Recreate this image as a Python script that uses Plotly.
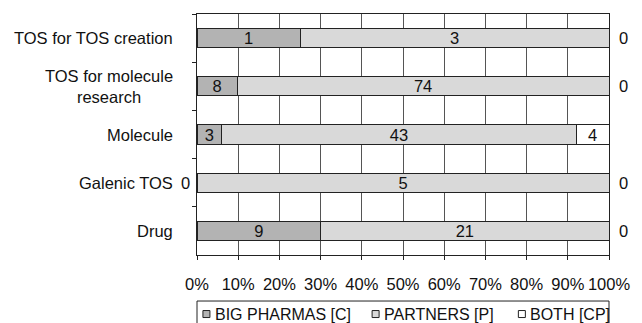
import plotly.graph_objects as go

# Categories listed top to bottom
categories = ["TOS for TOS creation", "TOS for molecule<br>research", "Molecule", "Galenic TOS", "Drug"]
big_pharmas = [1, 8, 3, 0, 9]
partners = [3, 74, 43, 5, 21]
both = [0, 0, 4, 0, 0]

series_names = ["BIG PHARMAS [C]", "PARTNERS [P]", "BOTH [CP]"]
series_values = [big_pharmas, partners, both]
series_colors = ["#b3b3b3", "#d9d9d9", "#ffffff"]

FONT = "Liberation Sans, Arial, sans-serif"
fs = 16.5
INK = "#111111"

fig = go.Figure()
for name, vals, col in zip(series_names, series_values, series_colors):
    fig.add_trace(go.Bar(
        y=categories, x=vals, name=name, orientation="h",
        marker=dict(color=col, line=dict(color="#222222", width=1)),
        text=[str(v) if v else "" for v in vals],
        textposition="inside", insidetextanchor="middle", textangle=0,
        textfont=dict(family=FONT, size=fs, color=INK),
        constraintext="none", showlegend=False,
    ))

annotations = []
# Category labels (right-aligned block, centred lines)
for c in categories:
    annotations.append(dict(x=0, xref="paper", y=c, yref="y", text=c, showarrow=False,
                            xanchor="right", yanchor="middle", align="center", xshift=-22,
                            font=dict(family=FONT, size=fs, color=INK)))
# Zero-count labels sit outside the bar ends
for c, v in zip(categories, big_pharmas):
    if v == 0:
        annotations.append(dict(x=0, xref="x", y=c, yref="y", text="0", showarrow=False,
                                xanchor="right", yanchor="middle", xshift=-5,
                                font=dict(family=FONT, size=fs, color=INK)))
for c, v in zip(categories, both):
    if v == 0:
        annotations.append(dict(x=100, xref="x", y=c, yref="y", text="0", showarrow=False,
                                xanchor="left", yanchor="middle", xshift=8,
                                font=dict(family=FONT, size=fs, color=INK)))

# Compact boxed legend below the plot
shapes = [dict(type="rect", xref="paper", yref="paper", x0=0, x1=1, y0=-0.40, y1=-0.191,
               line=dict(color="#222222", width=1), fillcolor="rgba(0,0,0,0)", layer="above")]
legend_x = [0.0144, 0.425, 0.780]  # paper x of each entry's marker
legend_y = -0.245
for name, col, lx in zip(series_names, series_colors, legend_x):
    shapes.append(dict(type="rect", xref="paper", yref="paper", xsizemode="pixel", ysizemode="pixel",
                       xanchor=lx, yanchor=legend_y, x0=0, x1=7, y0=-3.5, y1=3.5,
                       line=dict(color="#222222", width=1), fillcolor=col))
    annotations.append(dict(x=lx, xref="paper", y=legend_y, yref="paper", text=name,
                            showarrow=False, xanchor="left", yanchor="middle", xshift=10,
                            font=dict(family=FONT, size=16, color=INK)))

fig.update_layout(
    width=642, height=323,
    margin=dict(l=197, r=28, t=14, b=68),
    barmode="stack", barnorm="percent", bargap=0.6,
    paper_bgcolor="white", plot_bgcolor="white",
    font=dict(family=FONT, size=fs, color=INK),
    annotations=annotations, shapes=shapes, showlegend=False,
    xaxis=dict(range=[0, 100], dtick=10, ticksuffix="%", showgrid=True, gridcolor="#555555",
               gridwidth=1, showline=True, linecolor="#222222", mirror=True,
               ticks="outside", ticklen=4, tickcolor="#222222", zeroline=False,
               ticklabelstandoff=10, tickfont=dict(family=FONT, size=fs)),
    yaxis=dict(autorange="reversed", showticklabels=False, tickson="boundaries",
               ticks="outside", ticklen=4, tickcolor="#222222", showgrid=False,
               showline=True, linecolor="#222222", mirror=True),
)

fig.write_html("out.html")
